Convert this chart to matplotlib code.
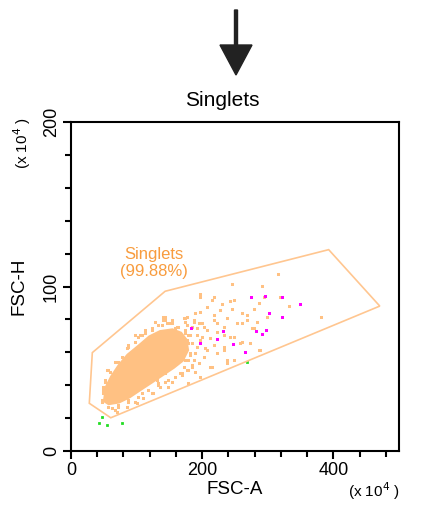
import matplotlib
matplotlib.use("Agg")
import matplotlib.pyplot as plt
from matplotlib.ticker import MultipleLocator

plt.rcParams['font.family'] = ['Liberation Sans', 'DejaVu Sans']

# ---- data (units of 10^4) ----
title = "Singlets"
x_label = "FSC-A"
y_label = "FSC-H"
x_ticks = [0, 200, 400]
y_ticks = [0, 100, 200]
gate_name = "Singlets"
gate_pct = "99.88%"

gate_x = [32.5, 143.5, 392.8, 470.7, 60.6, 27.9]
gate_y = [59.8, 97.1, 122.4, 88.1, 20.2, 29.0]

# dense core outline of the population
core_x = [48.6, 51.4, 59.8, 71.0, 85.0, 101.8, 118.5, 135.3, 154.9, 168.9,
          177.4, 180.1, 171.7, 157.8, 140.9, 124.2, 107.4, 90.6, 73.8, 57.0]
core_y = [30.0, 38.9, 45.6, 52.3, 59.0, 64.5, 70.2, 73.5, 74.6, 72.4,
          68.0, 61.2, 54.5, 50.1, 45.6, 41.1, 36.7, 32.2, 28.9, 27.8]

# sparse events (orange)
ev_x = [315.0, 245.3, 291.1, 195.9, 217.3, 242.7, 319.1, 332.3, 230.0, 207.1,
        226.5, 245.3, 278.4, 381.1, 283.5, 260.5, 275.8, 176.6, 186.8, 196.9,
        217.3, 237.6, 222.4, 202.0, 191.9, 212.2, 232.6, 247.8, 258.0, 273.3,
        286.0, 247.8, 222.4, 207.1, 191.9, 232.6, 214.7, 186.8, 171.5, 166.4,
        135.9, 125.7, 110.4, 100.3, 85.0, 141.0, 151.1, 161.3, 105.3, 54.5,
        49.4, 46.8, 57.0, 69.7, 260.5, 298.7, 293.6, 268.2, 176.6, 181.7,
        161.3, 202.0, 237.6,
        143.5, 146.1, 153.7, 174.0, 189.3, 184.2, 174.0, 194.4, 199.5, 179.1,
        189.3, 174.0, 184.2, 168.9, 153.7, 148.6, 133.3, 123.2, 107.9, 87.5,
        72.2, 62.1, 46.8, 49.4, 51.9, 57.0, 72.2, 87.5, 102.8, 113.0,
        123.2, 133.3, 138.4, 156.2, 163.8, 161.3, 143.5, 130.8, 189.3, 196.9,
        179.1,
        46.8, 49.4, 51.9, 59.5, 67.2, 77.4, 85.0, 97.7, 107.9, 113.0,
        123.2, 138.4, 143.5, 153.7, 163.8, 174.0, 179.1, 184.2, 181.7, 184.2,
        176.6, 168.9, 158.8, 148.6, 133.3, 118.0, 102.8, 87.5, 72.2, 57.0,
        67.2, 97.7, 143.5, 179.1, 158.8, 141.0, 174.0, 128.2, 97.7, 87.5,
        171.5, 176.6, 186.8, 191.9, 199.5, 207.1, 181.7, 196.9, 212.2, 217.3,
        204.6, 189.3, 176.6, 194.4, 222.4, 232.6, 227.5, 214.7, 196.9, 242.7,
        252.9, 260.5, 268.2, 278.4, 286.0, 288.5, 247.8, 217.3, 232.6, 174.0,
        179.1, 212.2, 237.6]
ev_y = [107.4, 101.3, 100.5, 95.2, 93.4, 91.4, 93.4, 88.3, 89.4, 87.3,
        85.7, 86.1, 86.1, 81.2, 78.6, 77.6, 74.6, 81.7, 79.6, 84.7,
        82.7, 80.6, 77.6, 75.6, 70.5, 68.5, 70.5, 69.5, 65.4, 65.4,
        61.4, 55.3, 59.4, 61.4, 63.4, 63.4, 51.3, 55.3, 51.3, 47.2,
        39.1, 35.1, 32.0, 29.0, 26.9, 79.6, 77.6, 75.6, 70.5, 49.2,
        39.1, 31.0, 26.9, 23.9, 83.7, 81.7, 93.8, 79.6, 67.5, 59.4,
        57.3, 57.3, 53.3,
        81.7, 77.6, 79.6, 80.6, 83.7, 75.6, 71.5, 77.6, 69.5, 65.4,
        59.4, 55.3, 51.3, 47.2, 42.1, 39.1, 41.1, 35.1, 35.1, 31.0,
        26.9, 25.9, 31.0, 37.1, 43.2, 49.2, 54.3, 63.4, 69.5, 71.5,
        73.6, 76.6, 71.5, 67.5, 61.4, 53.3, 47.2, 43.2, 48.2, 45.2,
        41.1,
        30.0, 35.1, 42.1, 48.2, 54.3, 57.3, 62.4, 66.5, 70.5, 73.6,
        74.6, 76.6, 79.6, 77.6, 75.6, 73.6, 70.5, 65.4, 58.4, 52.3,
        49.2, 46.2, 45.2, 43.2, 40.1, 37.1, 33.0, 30.0, 28.0, 26.9,
        24.9, 30.0, 42.1, 55.3, 74.6, 81.7, 78.6, 78.6, 70.5, 64.4,
        80.6, 76.6, 78.6, 74.6, 77.6, 73.6, 70.5, 67.5, 68.5, 64.4,
        62.4, 59.4, 55.3, 53.3, 72.5, 75.6, 85.7, 91.8, 93.8, 69.5,
        77.6, 66.5, 82.7, 74.6, 89.8, 61.4, 91.8, 79.6, 61.4, 63.4,
        49.2, 51.3, 55.3]

# magenta events
mag_x = [182.2, 231.0, 222.4, 246.3, 265.6, 281.9, 291.6, 297.7, 302.3, 273.8,
         295.2, 321.1, 321.1, 349.6, 195.9]
mag_y = [74.6, 72.9, 67.9, 65.0, 60.4, 72.9, 70.9, 73.6, 84.1, 93.4,
         94.2, 93.4, 81.2, 89.2, 65.9]

# green events
grn_x = [46.8, 43.3, 55.5, 77.9, 267.7]
grn_y = [20.9, 16.8, 16.0, 17.0, 53.9]

# ---- style ----
ORANGE = '#FFC183'
GATE = '#FFC690'
LABEL = '#F89C3E'

fig = plt.figure(figsize=(4.22, 5.08), dpi=100)
ax = fig.add_axes([71/422, 57/508, 328/422, 329/508])

ax.fill(core_x, core_y, color=ORANGE, lw=0, zorder=2)
ax.scatter(ev_x, ev_y, s=4.7, marker='s', color=ORANGE, linewidths=0, zorder=2,
           snap=False)
ax.scatter(mag_x, mag_y, s=4.7, marker='s', color='#FF00FF', linewidths=0, zorder=3,
           snap=False)
ax.scatter(grn_x, grn_y, s=4, marker='s', color='#22DD22', linewidths=0, zorder=3,
           snap=False)

ax.fill(gate_x, gate_y, facecolor='none', edgecolor=GATE, lw=1.2, zorder=4)
ax.text(126.7, 114.3, f"{gate_name}\n({gate_pct})", color=LABEL, fontsize=12,
        ha='center', va='center', linespacing=1.1)

ax.set_xlim(0, 500)
ax.set_ylim(0, 200)
ax.set_xticks(x_ticks)
ax.set_yticks(y_ticks)
ax.xaxis.set_minor_locator(MultipleLocator(40))
ax.yaxis.set_minor_locator(MultipleLocator(20))
ax.tick_params(which='major', length=6, width=1.5, labelsize=13, pad=2)
ax.tick_params(which='minor', length=4, width=1.5)
for lab in ax.get_yticklabels():
    lab.set_rotation(90)
    lab.set_va('center')
for sp in ax.spines.values():
    sp.set_linewidth(1.5)

ax.set_xlabel(x_label, fontsize=13.5)
ax.set_ylabel(y_label, fontsize=13.5)
ax.xaxis.set_label_coords(0.5, -0.092)
ax.yaxis.set_label_coords(-0.134, 0.5)

fig.text(374/422, 1 - 491/508, r"(x 10$^4$ )", fontsize=11, ha='center', va='center')
fig.text(22/422, 1 - 143/508, r"(x 10$^4$ )", fontsize=11, ha='center', va='center',
         rotation=90)

fig.text(222/422, 1 - 101/508, title, fontsize=15, ha='center', va='center')

# arrow
fig.patches.append(matplotlib.patches.FancyArrow(
    236/422, 1 - 10/508, 0, -(65/508), width=3/422, head_width=32/422,
    head_length=30/508, length_includes_head=True, color='#222222',
    transform=fig.transFigure, figure=fig))

fig.savefig('out.png', dpi=100)
